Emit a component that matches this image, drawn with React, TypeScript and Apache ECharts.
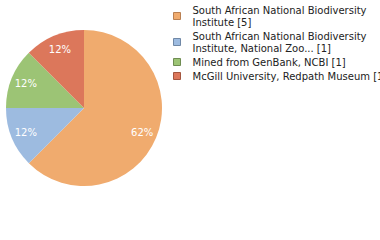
import React, { useEffect, useRef } from "react";
import * as echarts from "echarts";

const categories = [
  "South African National Biodiversity\nInstitute",
  "South African National Biodiversity\nInstitute, National Zoo...",
  "Mined from GenBank, NCBI",
  "McGill University, Redpath Museum",
];
const values = [5, 1, 1, 1];
const colors = ["#f0ab6e", "#9dbbe0", "#9cc475", "#dc775b"];
const borderColors = ["#b98052", "#7088a6", "#6f8c52", "#a3553f"];

export default function App() {
  const ref = useRef<HTMLDivElement>(null);
  useEffect(() => {
    const chart = echarts.init(ref.current!, null, { renderer: "svg" });
    const total = values.reduce((a, b) => a + b, 0);
    const data = categories.map((name, i) => ({
      name,
      value: values[i],
      itemStyle: { color: colors[i] },
    }));
    chart.setOption({
      animation: false,
      legend: {
        orient: "vertical",
        left: 173,
        top: 4,
        padding: 0,
        itemWidth: 7,
        itemHeight: 7,
        itemGap: 2,
        icon: "rect",
        data: categories.map((name, i) => ({
          name,
          itemStyle: { color: colors[i], borderColor: borderColors[i], borderWidth: 1 },
        })),
        formatter: (name: string) => {
          const i = categories.indexOf(name);
          return name + " [" + values[i] + "]";
        },
        textStyle: {
          fontFamily: "DejaVu Sans",
          fontSize: 10,
          color: "#222",
          lineHeight: 12,
          padding: [0, 0, 0, 7],
        },
        selectedMode: false,
      },
      series: [
        {
          type: "pie",
          center: [84, 108],
          radius: [0, 78],
          startAngle: 90,
          clockwise: true,
          silent: true,
          label: { show: false },
          labelLine: { show: false },
          data,
        },
        {
          type: "pie",
          center: [84, 108],
          radius: [42, 78],
          startAngle: 90,
          clockwise: true,
          silent: true,
          legendHoverLink: false,
          itemStyle: { color: "rgba(0,0,0,0)" },
          label: {
            show: true,
            position: "inside",
            color: "#fff",
            fontFamily: "DejaVu Sans",
            fontSize: 10,
            formatter: (p: any) => Math.floor((p.value / total) * 100) + "%",
          },
          labelLine: { show: false },
          data: categories.map((name, i) => ({ name, value: values[i] })),
        },
      ],
    });
    return () => chart.dispose();
  }, []);
  return (
    <div
      ref={ref}
      style={{ position: "absolute", left: 0, top: 0, width: 380, height: 240 }}
    />
  );
}
